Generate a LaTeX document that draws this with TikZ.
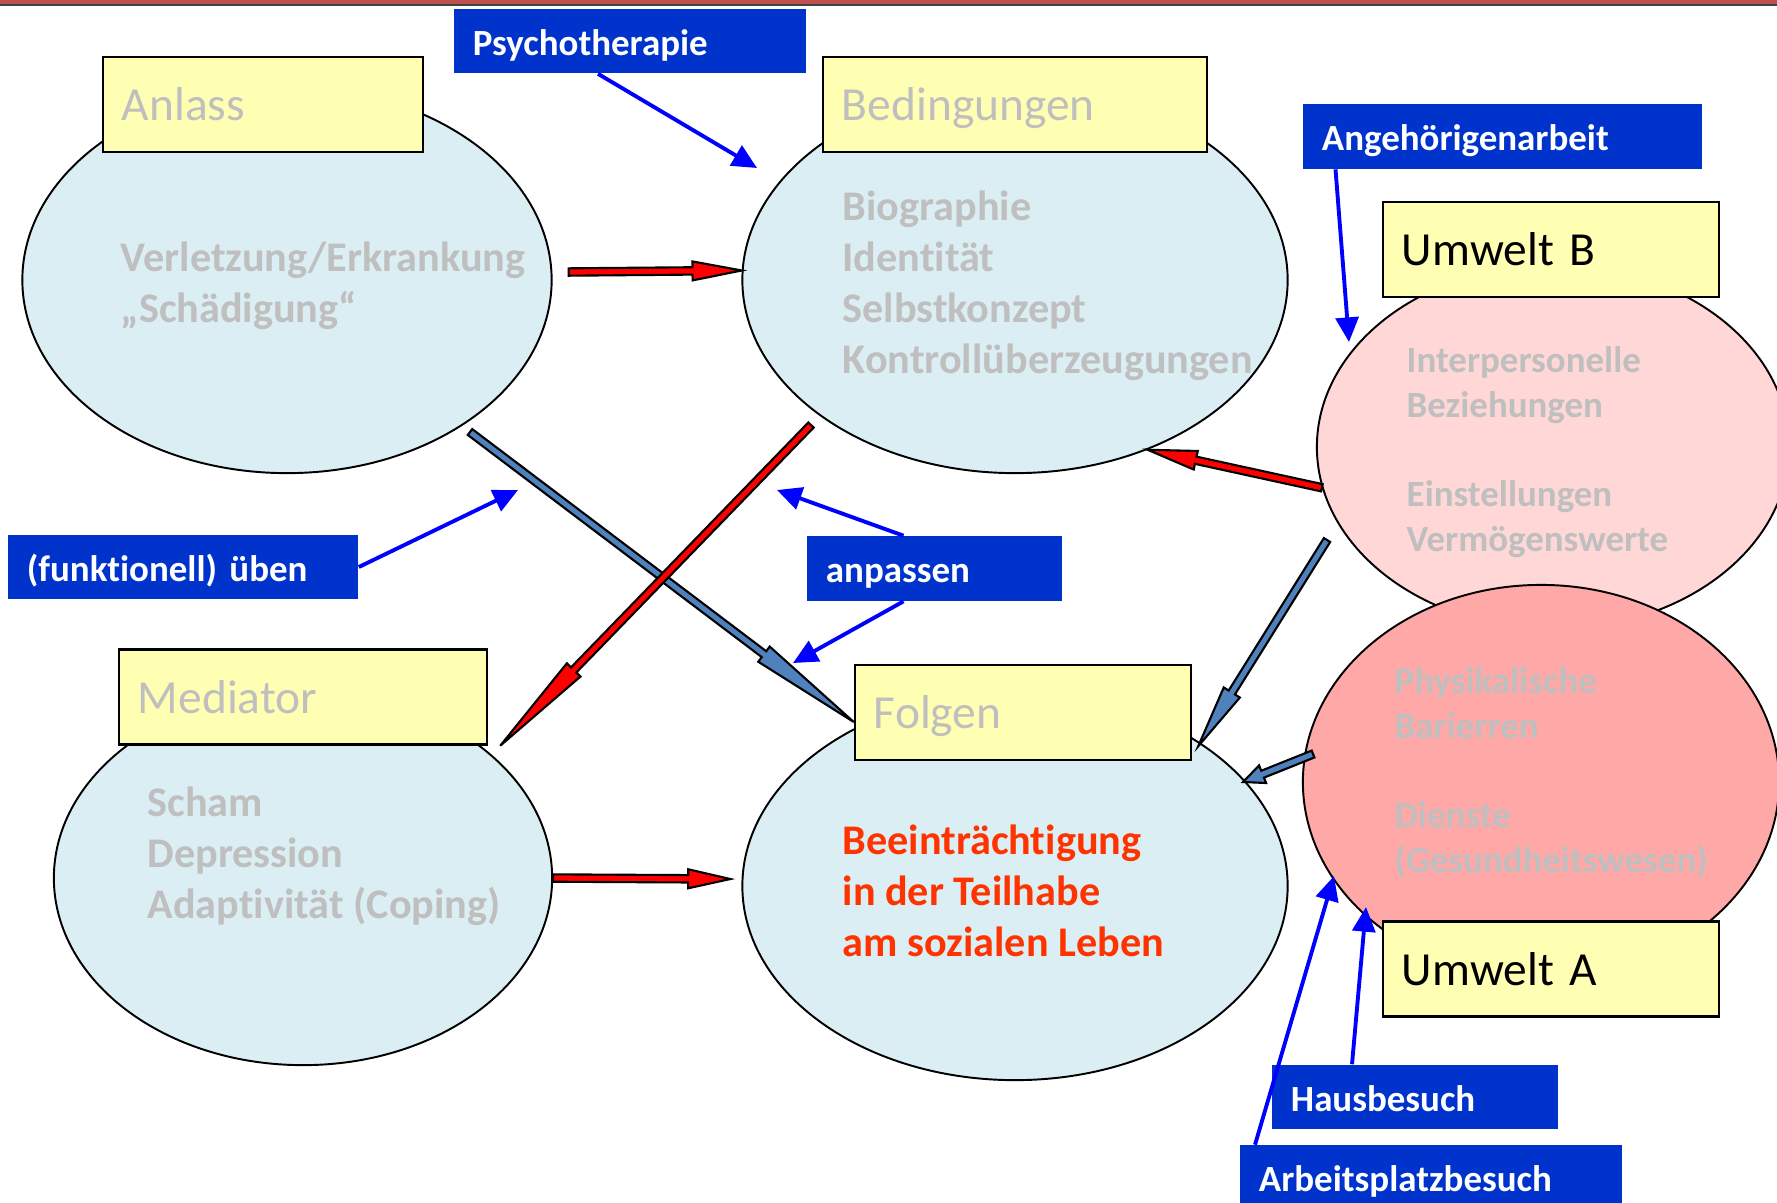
\documentclass[tikz,border=0pt]{standalone}
\usepackage{fontspec}
\setmainfont{Carlito}[Ligatures=NoCommon]
\usepackage{tikz}
\usetikzlibrary{calc,shapes.geometric,arrows.meta}
\definecolor{ellblue}{HTML}{DAEEF3}
\definecolor{pinklight}{HTML}{FFD7D7}
\definecolor{pinkdark}{HTML}{FFA8A8}
\definecolor{boxyellow}{HTML}{FFFFB3}
\definecolor{labelblue}{HTML}{0033CC}
\definecolor{arrowblue}{HTML}{0000FF}
\definecolor{steelblue}{HTML}{4F81BD}
\definecolor{txtgray}{HTML}{BFBFBF}
\definecolor{txtred}{HTML}{FF3300}
\definecolor{slidered}{HTML}{C0504D}
\newcommand{\fatarrow}[4][14pt]{%
\coordinate (fa-h) at ($(#4)!#1!(#3)$);
\filldraw[fill=#2,draw=black,line width=0.6pt,line join=miter]
($(#3)!1.05pt!90:(#4)$) -- ($(fa-h)!1.05pt!90:(#4)$) -- ($(fa-h)!2.7pt!90:(#4)$)
-- (#4) -- ($(fa-h)!2.7pt!-90:(#4)$) -- ($(fa-h)!1.05pt!-90:(#4)$)
-- ($(#3)!1.05pt!-90:(#4)$) -- cycle;}

\begin{document}
\begin{tikzpicture}[x=0.01cm,y=-0.01cm,
ell/.style={ellipse,draw,line width=0.55pt,inner sep=0pt,fill=ellblue},
titlebox/.style={draw,fill=boxyellow,line width=0.65pt,minimum height=0.95cm,inner xsep=0.19cm,align=left,text height=11pt,text depth=1.7pt,text=txtgray,font=\fontsize{13.5}{16}\selectfont},
bluelabel/.style={fill=labelblue,text=white,minimum height=0.63cm,inner xsep=0.19cm,align=left,text height=9.8pt,text depth=1.8pt,font=\bfseries\fontsize{10.5}{12.6}\selectfont},
bodytext/.style={anchor=west,align=left,inner sep=0pt,text=txtgray,font=\bfseries\fontsize{12}{14.5}\selectfont},
smalltext/.style={anchor=west,align=left,inner sep=0pt,text=txtgray,font=\bfseries\fontsize{10.5}{12.7}\selectfont},
bluearrow/.style={draw=arrowblue,line width=1.1pt,-{Triangle[length=7pt,width=6.5pt]}}]
\useasboundingbox (0,0) rectangle (1777,1202);
\clip (0,0) rectangle (1777,1202);
\fill[slidered] (0,0) rectangle (1777,4);
\draw[black!75,line width=0.5pt] (0,5) -- (1777,5);

\node[ell,minimum width=5.29cm,minimum height=3.86cm] (anlass) at (287,280) {};
\node[ell,minimum width=5.45cm,minimum height=3.86cm] (bed) at (1015,280) {};
\node[ell,minimum width=4.98cm,minimum height=3.74cm] (med) at (303,878) {};
\node[ell,minimum width=5.45cm,minimum height=3.88cm] (folgen) at (1015,886) {};
\node[ell,fill=pinklight,minimum width=4.72cm,minimum height=3.64cm] (umwB) at (1553,447) {};
\node[ell,fill=pinkdark,minimum width=4.76cm,minimum height=3.94cm] (umwA) at (1541,782) {};

\node[titlebox,text width=2.82cm] (anlassBox) at (263,104.5) {Anlass};
\node[titlebox,text width=3.46cm] (bedBox) at (1015,104.5) {Bedingungen};
\node[titlebox,text width=3.30cm] (medBox) at (303,697) {Mediator};
\node[titlebox,text width=2.98cm] (folgenBox) at (1023,712.5) {Folgen};
\node[titlebox,text width=2.98cm,text=black] (umwBBox) at (1551,249.5) {Umwelt B};
\node[titlebox,text width=2.98cm,text=black] (umwABox) at (1551,969) {Umwelt A};

\node[bodytext] at (120,285.5) {Verletzung/Erkrankung\\„Schädigung“};
\node[bodytext] at (842,286) {Biographie\\Identität\\Selbstkonzept\\Kontrollüberzeugungen};
\node[bodytext] at (147,856.5) {Scham\\Depression\\Adaptivität (Coping)};
\node[bodytext,text=txtred] at (842,891) {Beeinträchtigung\\in der Teilhabe\\am sozialen Leben};
\node[smalltext] at (1406,452) {Interpersonelle\\Beziehungen\\[12.7pt]Einstellungen\\Vermögenswerte};
\node[smalltext] at (1394,773) {Physikalische\\Barierren\\[12.7pt]Dienste\\(Gesundheitswesen)};

\node[bluelabel,text width=3.14cm] (psy) at (630,41) {Psychotherapie};
\node[bluelabel,text width=3.61cm] (angeh) at (1502.5,136.5) {Angehörigenarbeit};
\node[bluelabel,text width=3.12cm] (fkt) at (183,567) {(funktionell) üben};
\node[bluelabel,text width=2.17cm] (anp) at (934.5,568.5) {anpassen};
\node[bluelabel,text width=2.48cm] (haus) at (1415,1097) {Hausbesuch};
\node[bluelabel,text width=3.44cm] (arb) at (1431,1177.5) {Arbeitsplatzbesuch};

\coordinate (psyTip) at (757,168);
\coordinate (angehTip) at (1349,342);
\coordinate (fktTip) at (518,490);
\coordinate (anpTipA) at (777,490);
\coordinate (anpTipB) at (793,663);
\coordinate (hausTip) at (1366,907);
\coordinate (arbTip) at (1334,876);
\draw[bluearrow] ($(psy.south)+(-32,0)$) -- (psyTip);
\draw[bluearrow] ($(angeh.south)+(-167,0)$) -- (angehTip);
\draw[bluearrow] (fkt.east) -- (fktTip);
\draw[bluearrow] ($(anp.north)+(-31,0)$) -- (anpTipA);
\draw[bluearrow] ($(anp.south)+(-31,0)$) -- (anpTipB);
\draw[bluearrow] ($(haus.north)+(-63,0)$) -- (hausTip);
\draw[bluearrow] ($(arb.north)+(-176,0)$) -- (arbTip);

\coordinate (anlassOut) at ($(anlass.east)+(16,-8)$);
\coordinate (bedOut) at (811,425);
\coordinate (medIn) at ($(medBox.south east)+(12,0)$);
\coordinate (folgenIn) at ($(folgen.west)+(-11,-7)$);
\coordinate (anlassOutB) at (470,432);
\coordinate (folgenInA) at ($(folgenBox.west)+(0,9.5)$);
\coordinate (umwBOut) at (1327,540);
\coordinate (folgenInB) at ($(folgenBox.south east)+(6,-15)$);
\coordinate (umwAOut) at (1313,754);
\coordinate (folgenInC) at (1243,782);
\fatarrow[32pt]{steelblue}{anlassOutB}{folgenInA}
\fatarrow[18pt]{steelblue}{umwBOut}{folgenInB}
\fatarrow[6pt]{steelblue}{umwAOut}{folgenInC}
\fatarrow[14pt]{red}{anlassOut}{bed.178}
\fatarrow[30pt]{red}{bedOut}{medIn}
\fatarrow[12pt]{red}{med.east}{folgenIn}
\fatarrow[14pt]{red}{umwB.190}{bed.-52}
\end{tikzpicture}
\end{document}
